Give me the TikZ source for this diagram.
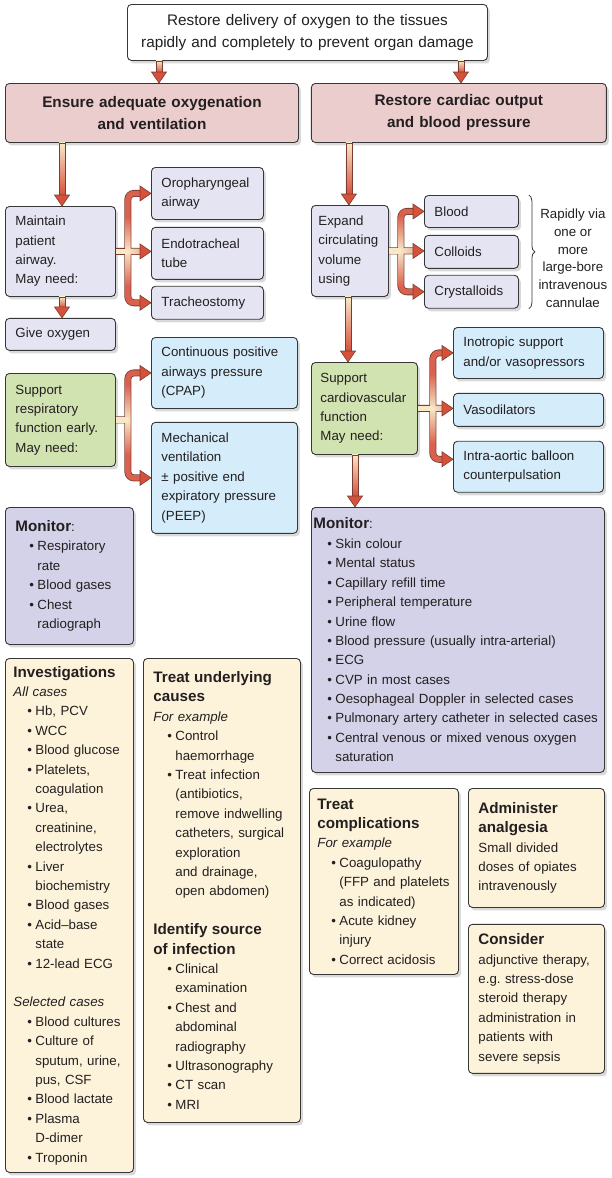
\documentclass[tikz,border=0pt]{standalone}
\usepackage{fontspec}
\setmainfont{Liberation Sans}
\usetikzlibrary{positioning, calc, shadows, fadings, decorations.pathreplacing}
\definecolor{pinkbox}{RGB}{236,205,205}
\definecolor{lavbox}{RGB}{229,228,242}
\definecolor{bluebox}{RGB}{213,236,250}
\definecolor{greenbox}{RGB}{209,227,177}
\definecolor{monbox}{RGB}{212,210,232}
\definecolor{creambox}{RGB}{253,243,218}
\definecolor{boxline}{RGB}{55,55,55}
\definecolor{inktext}{RGB}{35,31,32}
\definecolor{arrred}{RGB}{214,80,58}
\definecolor{arrcream}{RGB}{248,232,200}
\definecolor{arrline}{RGB}{120,62,52}

\tikzfading[name=fromjunction, inner color=transparent!0, outer color=transparent!100]

\newcommand\bodyfont{\fontsize{13.3}{19.4}\selectfont}
\newcommand\bigfont{\fontsize{15.3}{22}\selectfont}
\newcommand\boxhead[1]{{\fontsize{15.2}{19.4}\selectfont\bfseries #1}}
\newcommand\itembul{\hspace*{14pt}\makebox[8pt][l]{\textbullet}}
\newcommand\itemcont{\hspace*{22pt}}
% fat arrow straight down, x taken from #2 (+ shift #1), tip on the top of #3
\newcommand\fatdown[3][0]{%
  \shadedraw[shaft] let \p1=($(#2)+(#1,0)$), \p2=(#3) in
    (\x1-3pt,\y1) rectangle (\x1+3pt,\y2+10.5pt);
  \filldraw[tiphead] let \p1=($(#2)+(#1,0)$), \p2=(#3) in
    (\x1-7.5pt,\y2+11pt) -- (\x1+7.5pt,\y2+11pt) -- (\x1,\y2) -- cycle;}
\newcommand\arrowheadat[1]{\filldraw[tiphead] (#1) -- ++(-11,-7.5) -- ++(0,15) -- cycle;}

\begin{document}
\begin{tikzpicture}[x=1pt, y=-1pt,
    box/.style={rectangle, draw=boxline, line width=0.9pt, rounded corners=4pt, fill=#1,
      anchor=north west, align=left, inner ysep=2pt, text=inktext, font=\bodyfont,
      drop shadow={shadow xshift=2.5pt, shadow yshift=-3pt, opacity=0.3}},
    wh/.code n args={3}{\pgfmathsetlengthmacro\boxtw{#1-2*(#3)}%
      \tikzset{minimum width=#1, minimum height=#2, inner xsep=#3, text width/.expanded=\boxtw}},
    shaft/.style={top color=arrcream, bottom color=arrred, draw=arrline, line width=0.6pt},
    tiphead/.style={fill=arrred, draw=arrline, line width=0.6pt},
    armout/.style={draw=arrline, line width=7pt, rounded corners=6pt},
    armin/.style={draw=arrred!90!white, line width=5.4pt, rounded corners=6pt},
    stubin/.style={draw=arrcream, line width=5.4pt},
    armglow/.style={draw=arrcream, line width=5.4pt, rounded corners=6pt,
      path fading=fromjunction, fit fading=false}
]
\useasboundingbox (0,0) rectangle (612,1178);

% top row
\node[box=white, wh={360pt}{56pt}{10pt}, align=center, font=\bigfont] (top) at (127,4)
  {Restore delivery of oxygen to the tissues\\rapidly and completely to prevent organ damage};
\node[box=pinkbox, wh={293pt}{59pt}{10pt}, align=center, font=\bigfont\bfseries] (pinkL) at (5,83)
  {Ensure adequate oxygenation\\and ventilation};
\node[box=pinkbox, wh={295pt}{59pt}{10pt}, align=center, font=\bigfont\bfseries, below right=0pt and 12pt of pinkL.north east] (pinkR)
  {Restore cardiac output\\and blood pressure};

% left column
\node[box=lavbox, wh={110pt}{90pt}{10pt}] (maintain) at (5,206) {Maintain\\patient\\airway.\\May need:};
\node[box=lavbox, wh={112pt}{52pt}{10pt}] (oroph) at (151,167) {Oropharyngeal\\airway};
\node[box=lavbox, wh={112pt}{52pt}{10pt}, below right=7pt and 0pt of oroph.south west] (endo) {Endotracheal\\tube};
\node[box=lavbox, wh={112pt}{33pt}{10pt}, below right=6pt and 0pt of endo.south west] (trach) {Tracheostomy};
\node[box=lavbox, wh={110pt}{32pt}{10pt}, below right=21pt and 0pt of maintain.south west] (giveoxy) {Give oxygen};
\node[box=greenbox, wh={110pt}{93pt}{10pt}] (suppresp) at (5,373) {Support\\respiratory\\function early.\\May need:};
\node[box=bluebox, wh={146pt}{71pt}{10pt}] (cpap) at (151,337) {Continuous positive\\airways pressure\\(CPAP)};
\node[box=bluebox, wh={146pt}{111pt}{10pt}, below right=13pt and 0pt of cpap.south west] (mech)
  {Mechanical\\ventilation\\± positive end\\expiratory pressure\\(PEEP)};
\node[box=monbox, wh={128pt}{137pt}{10pt}] (monL) at (5,507)
  {\boxhead{Monitor}:\\\itembul Respiratory\\\itemcont rate\\\itembul Blood gases\\\itembul Chest\\\itemcont radiograph};
\node[box=creambox, wh={128pt}{514pt}{8pt}] (invest) at (5,658)
  {\boxhead{Investigations}\\\textit{All cases}\\\itembul Hb, PCV\\\itembul WCC\\\itembul Blood glucose\\
   \itembul Platelets,\\\itemcont coagulation\\\itembul Urea,\\\itemcont creatinine,\\\itemcont electrolytes\\
   \itembul Liver\\\itemcont biochemistry\\\itembul Blood gases\\\itembul Acid–base\\\itemcont state\\
   \itembul 12-lead ECG\\[19.4pt]\textit{Selected cases}\\\itembul Blood cultures\\\itembul Culture of\\
   \itemcont sputum, urine,\\\itemcont pus, CSF\\\itembul Blood lactate\\\itembul Plasma\\\itemcont D-dimer\\
   \itembul Troponin};
\node[box=creambox, wh={157pt}{464pt}{10pt}] (treatu) at (143,658)
  {\boxhead{Treat underlying}\\\boxhead{causes}\\\textit{For example}\\\itembul Control\\\itemcont haemorrhage\\
   \itembul Treat infection\\\itemcont (antibiotics,\\\itemcont remove indwelling\\\itemcont catheters, surgical\\
   \itemcont exploration\\\itemcont and drainage,\\\itemcont open abdomen)\\[19.4pt]\boxhead{Identify source}\\
   \boxhead{of infection}\\\itembul Clinical\\\itemcont examination\\\itembul Chest and\\\itemcont abdominal\\
   \itemcont radiography\\\itembul Ultrasonography\\\itembul CT scan\\\itembul MRI};

% right column
\node[box=lavbox, wh={77pt}{91pt}{7pt}] (expand) at (311,205) {Expand\\circulating\\volume\\using};
\node[box=lavbox, wh={94pt}{32pt}{10pt}] (blood) at (424,195) {Blood};
\node[box=lavbox, wh={94pt}{33pt}{10pt}, below right=7pt and 0pt of blood.south west] (colloids) {Colloids};
\node[box=lavbox, wh={94pt}{33pt}{10pt}, below right=6pt and 0pt of colloids.south west] (crystal) {Crystalloids};
\node[font=\fontsize{13.3}{17.7}\selectfont, align=center, text=inktext] (rapid) at ($(colloids.east)+(54,6.5)$)
  {Rapidly via\\one or\\more\\large-bore\\intravenous\\cannulae};
\draw[decorate, decoration={brace, amplitude=6pt}, boxline, line width=0.8pt]
  ($(blood.north east)+(10,0)$) -- ($(crystal.south east)+(10,0)$);
\node[box=greenbox, wh={106pt}{92pt}{9pt}] (suppcv) at (311,362) {Support\\cardiovascular\\function\\May need:};
\node[box=bluebox, wh={150pt}{51pt}{10pt}] (inotrop) at (453,327) {Inotropic support\\and/or vasopressors};
\node[box=bluebox, wh={150pt}{33pt}{10pt}, below right=14pt and 0pt of inotrop.south west] (vaso) {Vasodilators};
\node[box=bluebox, wh={150pt}{51pt}{10pt}, below right=14pt and 0pt of vaso.south west] (intra) {Intra-aortic balloon\\counterpulsation};
\node[box=monbox, wh={293pt}{265pt}{2pt}] (monR) at (311,507)
  {\boxhead{Monitor}:\\\itembul Skin colour\\\itembul Mental status\\\itembul Capillary refill time\\
   \itembul Peripheral temperature\\\itembul Urine flow\\\itembul Blood pressure (usually intra-arterial)\\
   \itembul ECG\\\itembul CVP in most cases\\\itembul Oesophageal Doppler in selected cases\\
   \itembul Pulmonary artery catheter in selected cases\\\itembul Central venous or mixed venous oxygen\\
   \itemcont saturation};
\node[box=creambox, wh={149pt}{186pt}{8pt}] (treatc) at (309,788)
  {\boxhead{Treat}\\\boxhead{complications}\\\textit{For example}\\\itembul Coagulopathy\\
   \itemcont (FFP and platelets\\\itemcont as indicated)\\\itembul Acute kidney\\\itemcont injury\\
   \itembul Correct acidosis};
\node[box=creambox, wh={136pt}{119pt}{10pt}] (admin) at (468,788)
  {\boxhead{Administer}\\\boxhead{analgesia}\\Small divided\\doses of opiates\\intravenously};
\node[box=creambox, wh={136pt}{149pt}{10pt}, below right=16pt and 0pt of admin.south west] (consider)
  {\boxhead{Consider}\\adjunctive therapy,\\e.g.\ stress-dose\\steroid therapy\\administration in\\patients with\\severe sepsis};

% straight arrows
\fatdown[32]{top.south west}{pinkL.north}
\fatdown[-27]{top.south east}{pinkR.north}
\fatdown[57]{pinkL.south west}{maintain.north}
\fatdown[57]{maintain.south west}{giveoxy.north}
\fatdown[38]{pinkR.south west}{expand.north}
\fatdown[37]{expand.south west}{suppcv.north}
\fatdown[44]{suppcv.south west}{monR.north}

% forks
\coordinate (jA) at ($(maintain.east)+(12,0)$);
\coordinate (oA) at ($(oroph.west)+(-10.5,0)$);
\coordinate (tA) at ($(trach.west)+(-10.5,0)$);
\coordinate (eA) at ($(endo.west)+(-10.5,0)$);
\coordinate (jB) at ($(suppresp.east)+(12,0)$);
\coordinate (oB) at ($(cpap.west)+(-10.5,0)$);
\coordinate (tB) at ($(mech.west)+(-10.5,0)$);
\coordinate (jC) at ($(expand.east)+(12,0)$);
\coordinate (oC) at ($(blood.west)+(-10.5,0)$);
\coordinate (tC) at ($(crystal.west)+(-10.5,0)$);
\coordinate (eC) at ($(colloids.west)+(-10.5,0)$);
\coordinate (jD) at ($(suppcv.east)+(15,0)$);
\coordinate (oD) at ($(inotrop.west)+(-10.5,0)$);
\coordinate (iD) at ($(intra.west)+(0,-7.5)$);
\coordinate (tD) at ($(iD)+(-10.5,0)$);
\coordinate (eD) at ($(vaso.west)+(-10.5,0)$);

\draw[armout] (oA) -| (jA) |- (tA) (maintain.east) -- (maintain.east -| eA);
\draw[armout] (oB) -| (jB) |- (tB) (suppresp.east) -- (jB);
\draw[armout] (oC) -| (jC) |- (tC) (expand.east) -- (expand.east -| eC);
\draw[armout] (oD) -| (jD) |- (tD) (suppcv.east) -- (suppcv.east -| eD);
\draw[armin] (oA) -| (jA) |- (tA) (jA) -- (maintain.east -| eA);
\draw[armin] (oB) -| (jB) |- (tB);
\draw[armin] (oC) -| (jC) |- (tC) (jC) -- (expand.east -| eC);
\draw[armin] (oD) -| (jD) |- (tD) (jD) -- (suppcv.east -| eD);
\draw[stubin] (maintain.east) -- (jA);
\draw[stubin] (suppresp.east) -- (jB);
\draw[stubin] (expand.east) -- (jC);
\draw[stubin] (suppcv.east) -- (jD);
\draw[armglow, fading transform={shift={(jA)}, scale=1.4}] (oA) -| (jA) |- (tA) (jA) -- (maintain.east -| eA);
\draw[armglow, fading transform={shift={(jB)}, scale=1.4}] (oB) -| (jB) |- (tB);
\draw[armglow, fading transform={shift={(jC)}, scale=1.4}] (oC) -| (jC) |- (tC) (jC) -- (expand.east -| eC);
\draw[armglow, fading transform={shift={(jD)}, scale=1.4}] (oD) -| (jD) |- (tD) (jD) -- (suppcv.east -| eD);
\arrowheadat{oroph.west}
\arrowheadat{maintain.east -| endo.west}
\arrowheadat{trach.west}
\arrowheadat{cpap.west}
\arrowheadat{mech.west}
\arrowheadat{blood.west}
\arrowheadat{expand.east -| colloids.west}
\arrowheadat{crystal.west}
\arrowheadat{inotrop.west}
\arrowheadat{suppcv.east -| vaso.west}
\arrowheadat{iD}
\end{tikzpicture}
\end{document}
